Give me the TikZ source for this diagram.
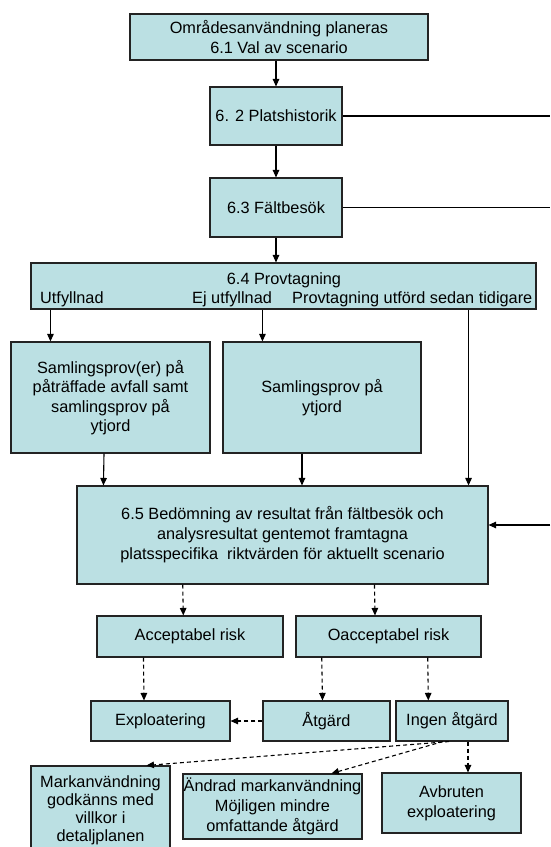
\documentclass[tikz,border=0pt]{standalone}
\usepackage{fontspec}
\setmainfont{Liberation Sans}
\usepackage{xcolor}
\usetikzlibrary{arrows.meta,positioning,calc}
\definecolor{boxfill}{RGB}{187,224,227}
\definecolor{boxline}{RGB}{35,35,35}
\tikzset{
  box/.style={draw=boxline, line width=1.1pt, fill=boxfill, align=center, inner sep=0pt,
    font=\fontsize{16.3}{20}\selectfont},
  lbl/.style={inner sep=0pt, anchor=base west, font=\fontsize{16.3}{20}\selectfont},
  arr/.style={-{Triangle[length=7.5pt,width=6.5pt]}, line width=1.1pt},
  darr/.style={arr, dash pattern=on 4pt off 3pt},
}
\begin{document}
\begin{tikzpicture}[x=1pt, y=-1pt]
    \useasboundingbox (0,0) rectangle (550,847);
    \clip (0,0) rectangle (550,847);
    \node[box, minimum width=298pt, minimum height=46pt] (scen) at (279,37) {Områdesanvändning planeras\\6.1 Val av scenario};
    \node[box, minimum width=132pt, minimum height=58pt] (hist) at (276,116) {6. 2 Platshistorik};
    \node[box, minimum width=132pt, minimum height=59pt] (falt) at (276,207.5) {6.3 Fältbesök};
    \node[box, minimum width=505pt, minimum height=46pt] (prov) at (283.5,286) {};
    \node[lbl, anchor=base] (provt) at (284,284) {6.4 Provtagning};
    \node[lbl] (utf) at (40,303) {Utfyllnad};
    \node[lbl] (ejutf) at (192,303) {Ej utfyllnad};
    \node[lbl] (tidig) at (292,303) {Provtagning utförd sedan tidigare};
    \node[box, minimum width=199pt, minimum height=111pt, font=\fontsize{16.3}{19.5}\selectfont] (samp1) at (110.5,397.5) {Samlingsprov(er) på\\påträffade avfall samt\\samlingsprov på\\ytjord};
    \node[box, minimum width=198pt, minimum height=111pt] (samp2) at (322,397.5) {Samlingsprov på\\ytjord};
    \node[box, minimum width=411pt, minimum height=98pt] (bed) at (282.5,535) {6.5 Bedömning av resultat från fältbesök och\\analysresultat gentemot framtagna\\platsspecifika\ \ riktvärden för aktuellt scenario};
    \node[box, minimum width=186pt, minimum height=41pt] (acc) at (190,636.5) {Acceptabel risk};
    \node[box, minimum width=185pt, minimum height=41pt] (oacc) at (388.5,636.5) {Oacceptabel risk};
    \node[box, minimum width=139pt, minimum height=40pt] (expl) at (160.5,721) {Exploatering};
    \node[box, minimum width=127pt, minimum height=40pt] (atg) at (326.5,721) {Åtgärd};
    \node[box, minimum width=112pt, minimum height=40pt] (ingen) at (452,721) {Ingen åtgärd};
    \node[box, minimum width=139pt, minimum height=89pt, font=\fontsize{16.3}{18}\selectfont] (mark) at (100.5,810.5) {Markanvändning\\godkänns med\\villkor i\\detaljplanen};
    \node[box, minimum width=179pt, minimum height=65pt] (andr) at (272.5,806.5) {Ändrad markanvändning\\Möjligen mindre\\omfattande åtgärd};
    \node[box, minimum width=139pt, minimum height=60pt] (avbr) at (451.5,803) {Avbruten\\exploatering};
    \coordinate (e1) at (550,116);
    \coordinate (e2) at (550,207.5);
    \coordinate (e3) at (550,525);

    \draw[arr] (hist.north |- scen.south) -- (hist.north);
    \draw[arr] (hist) -- (falt);
    \draw[arr] (falt.south) -- (falt.south |- prov.north);
    \draw[line width=1.1pt] (hist.east) -- (e1);
    \draw[line width=1.1pt] (falt.east) -- (e2);
    \draw[arr] (e3) -- ([yshift=10pt]bed.east);
    \draw[arr] ([xshift=20pt]prov.south west) -- ([xshift=40pt]samp1.north west);
    \draw[arr] ([xshift=232pt]prov.south west) -- ([xshift=40pt]samp2.north west);
    \draw[arr] ([xshift=-68pt]prov.south east) -- ([xshift=-20pt]bed.north east);
    \draw[arr] ([xshift=-6.5pt]samp1.south) -- ([xshift=27pt]bed.north west);
    \draw[arr] ([xshift=-20pt]samp2.south) -- ([xshift=-20pt]samp2.south |- bed.north);
    \draw[darr] ([xshift=106.3pt]bed.south west) -- ([xshift=-6.7pt]acc.north);
    \draw[darr] ([xshift=298pt]bed.south west) -- ([xshift=-13.5pt]oacc.north);
    \draw[darr] ([xshift=47pt]acc.south west) -- ([xshift=-16.5pt]expl.north);
    \draw[darr] ([xshift=26.3pt]oacc.south west) -- ([xshift=-4pt]atg.north);
    \draw[darr] ([xshift=132.3pt]oacc.south west) -- ([xshift=-23.7pt]ingen.north);
    \draw[darr] (atg.west) -- (expl.east);
    \draw[darr] ([xshift=-3pt]ingen.south) -- ([xshift=116pt]mark.north west);
    \draw[darr] ([xshift=-9pt]ingen.south) -- ([xshift=149pt]andr.north west);
    \draw[darr] ([xshift=16pt]ingen.south) -- ([xshift=16.5pt]avbr.north);
\end{tikzpicture}
\end{document}
